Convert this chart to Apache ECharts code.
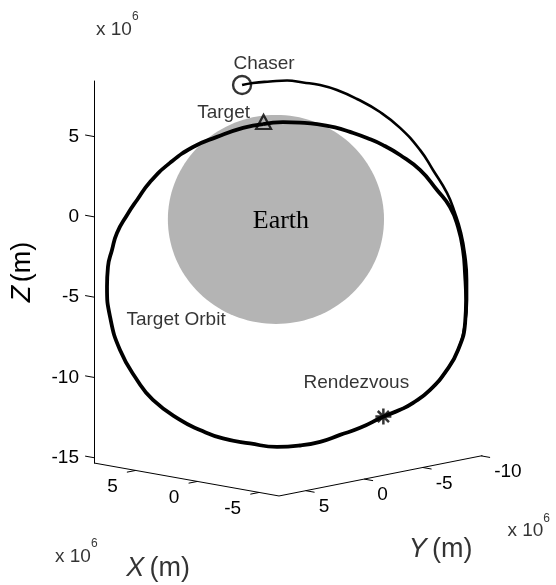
<!DOCTYPE html>
<html><head><meta charset="utf-8">
<script src="https://cdn.jsdelivr.net/npm/echarts@6/dist/echarts.min.js"></script>
<style>html,body{margin:0;padding:0;background:#fff}#c{width:556px;height:585px}</style>
</head><body><div id="c"></div>
<script>
// ---- 3D axis limits (units of 10^6 m) ----
const xLim = [-6.61, 8.38];
const yLim = [-10.1, 7.28];
const zLim = [-15.33, 8.46];
const xTicks = [5, 0, -5];
const yTicks = [5, 0, -5, -10];
const zTicks = [5, 0, -5, -10, -15];
// on-screen step of one unit along X and Y, expressed in Z units [horizontal, vertical]
const viewX = [-0.7686, 0.1370];
const viewY = [-0.7287, -0.1445];

// ---- trajectories as seen on the view plane (10^6 m) ----
const targetOrbitU = [10.53,11.77,12.83,13.89,15.01,15.94,17.00,18.00,19.06,20.30,21.36,22.17,22.67,22.98,23.11,23.17,23.11,22.67,21.98,20.93,19.87,19.06,18.00,16.57,15.32,14.08,12.83,11.40,9.72,8.03,6.60,5.36,3.67,2.68,1.62,1.00,0.81,0.87,1.12,1.43,2.06,2.68,3.49,4.73,6.17,7.66,9.28,10.53];
const targetOrbitV = [5.78,5.90,5.87,5.78,5.57,5.29,4.91,4.47,3.85,2.92,1.67,0.61,-0.63,-2.07,-3.62,-5.18,-6.61,-8.29,-9.53,-10.78,-11.59,-12.02,-12.45,-13.14,-13.58,-14.01,-14.24,-14.33,-14.11,-13.80,-13.27,-12.65,-11.40,-10.16,-8.29,-6.23,-4.36,-3.11,-2.06,-1.00,0.12,1.05,2.17,3.36,4.35,4.98,5.54,5.78];
const chaserU = [9.22,9.90,10.96,12.02,13.02,14.08,15.13,16.38,17.81,19.06,20.30,21.11,21.98,22.48,22.86,23.11,23.23,23.23,23.11,22.67,21.98,20.93,19.87,19.06,18.00];
const chaserV = [8.21,8.34,8.43,8.49,8.37,8.21,7.90,7.34,6.53,5.54,4.17,2.92,1.49,0.24,-1.00,-2.37,-3.93,-5.18,-6.61,-8.29,-9.53,-10.78,-11.59,-12.02,-12.45];
const chaserStart = [9.22, 8.21];
const targetStart = [10.56, 5.91];
const rendezvous = [18.02, -12.44];
const earthCenter = [11.33, -0.16];
const earthRadii = [6.73, 6.51];

const FONT = 'Liberation Sans';
const FS = 19;
function proj(X, Y, Z) {
  const dx = X - xLim[1], dy = Y - yLim[1];
  return [dx * viewX[0] + dy * viewY[0], Z + dx * viewX[1] + dy * viewY[1]];
}
function zip(a, b) { return a.map((v, i) => [v, b[i]]); }

function tickSeries(values, pointOf, dirOf, lab) {
  return {
    type: 'custom', coordinateSystem: 'cartesian2d', clip: false, silent: true,
    data: values.map(v => [v, 0]),
    renderItem: function (params, api) {
      const t = values[params.dataIndex];
      const p0 = api.coord(pointOf(t));
      const p1 = api.coord(dirOf(t));
      let dx = p1[0] - p0[0], dy = p1[1] - p0[1];
      const L = Math.sqrt(dx * dx + dy * dy);
      dx = dx / L * 9; dy = dy / L * 9;
      const ch = [{ type: 'line', shape: { x1: p0[0], y1: p0[1], x2: p0[0] + dx, y2: p0[1] + dy }, style: { stroke: '#000', lineWidth: 1 } }];
      if (lab) ch.push({ type: 'text', x: p0[0] + lab.dx, y: p0[1] + lab.dy,
        style: { text: String(t), fontSize: FS, fontFamily: FONT, fill: '#000', align: lab.align, verticalAlign: 'middle' } });
      return { type: 'group', children: ch };
    }
  };
}

const sup = { x: { fontSize: FS, fontFamily: FONT, color: '#000', padding: [9, 0, 0, 0] }, s: { fontSize: 12, fontFamily: FONT, color: '#000', verticalAlign: 'top' } };
const titleRich = { i: { fontSize: 27, fontStyle: 'italic', fontFamily: FONT, color: '#000' }, r: { fontSize: 27, fontFamily: FONT, color: '#000' } };

function note(pt, text, dx, dy, align, rich) {
  return { value: pt, symbolSize: 0, label: { show: true, position: 'inside', formatter: text, offset: [dx, dy], align: align || 'center', verticalAlign: 'middle', fontSize: FS, fontFamily: FONT, color: '#000', rich: rich } };
}
function lbl(text, dx, dy) {
  return { show: true, position: 'inside', formatter: text, offset: [dx, dy], fontSize: FS, fontFamily: FONT, color: '#000' };
}

const chart = echarts.init(document.getElementById('c'), null, { renderer: 'canvas' });
chart.setOption({
  animation: false,
  backgroundColor: '#fff',
  grid: { left: 94, right: 0, top: 81, bottom: 122 },
  xAxis: { type: 'value', min: 0, max: 28.77, show: false },
  yAxis: {
    type: 'value', min: zLim[0], max: zLim[1],
    axisLine: { show: true, lineStyle: { color: '#000', width: 1 } },
    axisTick: { show: false },
    splitLine: { show: false },
    axisLabel: { customValues: zTicks, fontSize: FS, fontFamily: FONT, color: '#000', margin: 15 },
    name: '{i|Z} {r|(m)}', nameLocation: 'middle', nameGap: 58, nameRotate: 90,
    nameTextStyle: { rich: titleRich }
  },
  series: [
    {
      type: 'custom', coordinateSystem: 'cartesian2d', clip: false, silent: true, z: 1,
      data: [earthCenter],
      renderItem: function (params, api) {
        const c = api.coord(earthCenter);
        const s = api.size([earthRadii[0], earthRadii[1]]);
        const pts = [];
        for (let k = 0; k < 144; k++) { const a = k / 144 * 2 * Math.PI; pts.push([c[0] + s[0] * Math.cos(a), c[1] + s[1] * Math.sin(a)]); }
        return { type: 'group', children: [
          { type: 'polygon', shape: { points: pts }, style: { fill: '#b4b4b4' } },
          { type: 'text', x: c[0] + 5, y: c[1] + 2, style: { text: 'Earth', fontSize: 26, fontFamily: 'Liberation Serif', fill: '#000', align: 'center', verticalAlign: 'middle' } }
        ] };
      }
    },
    { type: 'line', data: zip(chaserU, chaserV), clip: false, smooth: 0.5, symbol: 'none', lineStyle: { color: '#000', width: 2.6 }, z: 3 },
    { type: 'line', data: zip(targetOrbitU, targetOrbitV), clip: false, smooth: 0.5, symbol: 'none', lineStyle: { color: '#000', width: 3.8 }, z: 3 },
    {
      type: 'line', clip: false, symbol: 'none', z: 4,
      data: [proj(xLim[1], yLim[1], zLim[0]), proj(xLim[0], yLim[1], zLim[0]), proj(xLim[0], yLim[0], zLim[0])],
      lineStyle: { color: '#000', width: 1 }
    },
    tickSeries(xTicks, t => proj(t, yLim[1], zLim[0]), t => proj(t, yLim[1] + 1, zLim[0]), { dx: -18, dy: 16, align: 'right' }),
    tickSeries(yTicks, t => proj(xLim[0], t, zLim[0]), t => proj(xLim[0] - 1, t, zLim[0]), { dx: 13, dy: 16, align: 'left' }),
    tickSeries(zTicks, t => proj(xLim[1], yLim[1], t), t => proj(xLim[1] + 1, yLim[1], t), null),
    {
      type: 'scatter', clip: false, z: 6,
      data: [
        { value: chaserStart, symbol: 'circle', symbolSize: 18, itemStyle: { color: 'rgba(0,0,0,0)', borderColor: '#000', borderWidth: 2.4 },
          label: lbl('Chaser', 22, -21.5) },
        { value: targetStart, symbol: 'triangle', symbolSize: [15, 14], itemStyle: { color: 'rgba(0,0,0,0)', borderColor: '#000', borderWidth: 2.2 },
          label: lbl('Target', -40, -9.5) },
        { value: rendezvous, symbol: 'path://M0,-10L0,10M-10,0L10,0M-7,-7L7,7M-7,7L7,-7', symbolSize: 16, itemStyle: { color: 'rgba(0,0,0,0)', borderColor: '#000', borderWidth: 2.5 },
          label: lbl('Rendezvous', -27, -33.5) }
      ]
    },
    {
      type: 'scatter', clip: false, z: 6, silent: true,
      data: [
        note([targetOrbitU[35], targetOrbitV[35]], 'Target Orbit', 66, 3),
        note([0, zLim[1]], '{x|x 10}{s|6}', 2, -56, 'left', sup),
        note(proj(xLim[1], yLim[1], zLim[0]), '{x|x 10}{s|6}', -39, 89, 'left', sup),
        note(proj(xLim[0], yLim[0], zLim[0]), '{x|x 10}{s|6}', 25, 71, 'left', sup),
        note(proj((xLim[0] + xLim[1]) / 2, yLim[1], zLim[0]), '{i|X} {r|(m)}', -28.5, 89, 'center', titleRich),
        note(proj(xLim[0], (yLim[0] + yLim[1]) / 2, zLim[0]), '{i|Y} {r|(m)}', 60, 74, 'center', titleRich)
      ]
    }
  ]
});
</script></body></html>
